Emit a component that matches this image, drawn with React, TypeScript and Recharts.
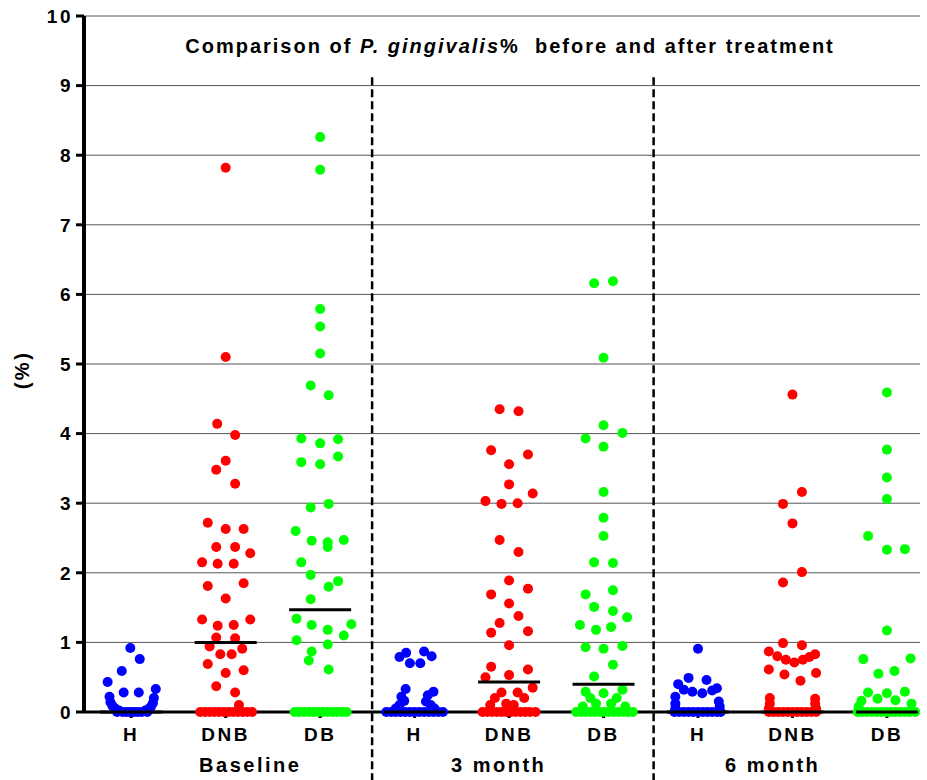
import React from "react";
import { ScatterChart, Scatter, XAxis, YAxis, CartesianGrid, ReferenceLine } from "recharts";

const categories = ["H", "DNB", "DB", "H", "DNB", "DB", "H", "DNB", "DB"];
const periods = ["Baseline", "3 month", "6 month"];
const periodCenters = [2.26, 4.89, 7.79];
const separators = [3.55, 6.53];
const yTicks = [0, 1, 2, 3, 4, 5, 6, 7, 8, 9, 10];

// each point: [P. gingivalis %, horizontal spread within the column]
const baselineH = [
  [0.92, -0.01], [0.76, 0.09], [0.59, -0.1], [0.43, -0.25], [0.28, -0.08], [0.28, 0.08], [0.33, 0.26],
  [0.22, -0.23], [0.2, 0.24], [0.14, -0.22], [0.13, 0.23], [0.09, -0.2], [0.08, 0.21], [0.05, -0.17],
  [0.05, 0.19], [0.02, -0.13], [0.02, 0.15], [0, -0.15], [0, -0.09], [0, -0.05], [0, -0.01], [0, 0.03],
  [0, 0.07], [0, 0.11], [0, 0.17],
];
const baselineDNB = [
  [7.82, 0], [5.1, 0], [4.14, -0.09], [3.98, 0.1], [3.61, 0], [3.48, -0.1], [3.28, 0.1],
  [2.72, -0.19], [2.63, 0], [2.63, 0.19], [2.37, -0.1], [2.37, 0.1], [2.28, 0.26], [2.15, -0.25],
  [2.13, -0.085], [2.13, 0.085], [1.81, -0.19], [1.85, 0.19], [1.63, 0], [1.33, -0.25], [1.33, 0.26],
  [1.24, -0.085], [1.25, 0.085], [1.07, -0.1], [1.06, 0.1], [0.94, -0.17], [0.91, 0.175], [0.83, -0.057],
  [0.83, 0.063], [0.69, -0.19], [0.56, 0], [0.6, 0.19], [0.37, -0.1], [0.28, 0.1], [0.1, 0.14],
  [0, -0.27], [0, -0.22], [0, -0.17], [0, -0.12], [0, -0.07], [0, -0.02], [0, 0.03], [0, 0.08],
  [0, 0.13], [0, 0.18], [0, 0.23], [0, 0.28],
];
const baselineDB = [
  [8.26, 0], [7.79, 0], [5.79, 0], [5.54, 0], [5.15, 0], [4.69, -0.1], [4.55, 0.09], [3.93, -0.2],
  [3.86, 0], [3.92, 0.19], [3.59, -0.2], [3.56, 0], [3.67, 0.19], [2.99, 0.09], [2.94, -0.1],
  [2.6, -0.26], [2.46, -0.09], [2.44, 0.08], [2.37, 0.08], [2.47, 0.25], [2.15, -0.2], [1.97, -0.1],
  [1.88, 0.19], [1.8, 0.09], [1.62, -0.1], [1.34, -0.25], [1.25, -0.09], [1.18, 0.08], [1.26, 0.33],
  [1.1, 0.25], [1.03, -0.25], [0.97, 0.08], [0.87, -0.09], [0.74, -0.12], [0.61, 0.09],
  [0, -0.27], [0, -0.22], [0, -0.17], [0, -0.12], [0, -0.07], [0, -0.02], [0, 0.03], [0, 0.08],
  [0, 0.13], [0, 0.18], [0, 0.23], [0, 0.28],
];
const month3H = [
  [0.79, -0.16], [0.85, -0.09], [0.7, -0.05], [0.7, 0.06], [0.87, 0.1], [0.8, 0.18], [0.33, -0.095],
  [0.29, 0.2], [0.22, -0.14], [0.24, 0.14], [0.16, -0.11], [0.15, 0.12], [0.1, -0.16], [0.1, 0.17],
  [0.05, -0.2], [0.05, 0.21], [0, -0.3], [0, -0.25], [0, -0.2], [0, -0.15], [0, -0.1], [0, -0.05],
  [0, 0], [0, 0.05], [0, 0.1], [0, 0.15], [0, 0.2], [0, 0.25], [0, 0.3],
];
const month3DNB = [
  [4.35, -0.1], [4.32, 0.1], [3.76, -0.19], [3.7, 0.2], [3.56, 0], [3.27, 0], [3.14, 0.25],
  [3.03, -0.25], [2.99, -0.08], [3.0, 0.09], [2.47, -0.1], [2.3, 0.1], [1.89, 0], [1.77, 0.2],
  [1.69, -0.19], [1.56, 0], [1.38, 0.1], [1.28, -0.1], [1.14, -0.19], [1.16, 0.2], [0.96, 0],
  [0.65, -0.19], [0.61, 0.2], [0.5, -0.25], [0.53, 0], [0.35, 0.25], [0.28, -0.08], [0.28, 0.09],
  [0.2, -0.15], [0.2, 0.16], [0.1, -0.2], [0.1, 0.05], [0.12, -0.03],
  [0, -0.28], [0, -0.23], [0, -0.18], [0, -0.13], [0, -0.08], [0, -0.03], [0, 0.02], [0, 0.07],
  [0, 0.12], [0, 0.17], [0, 0.22], [0, 0.28],
];
const month3DB = [
  [6.16, -0.1], [6.19, 0.1], [5.09, 0], [4.12, 0], [4.01, 0.2], [3.93, -0.19], [3.81, 0], [3.16, 0],
  [2.79, 0], [2.53, 0], [2.15, -0.1], [2.14, 0.1], [1.69, -0.19], [1.75, 0.1], [1.51, -0.1],
  [1.45, 0.1], [1.36, 0.25], [1.25, -0.25], [1.18, -0.08], [1.22, 0.08], [0.93, -0.19], [0.91, 0],
  [0.95, 0.2], [0.68, 0.1], [0.51, -0.1], [0.29, -0.19], [0.32, 0.2], [0.27, 0], [0.2, -0.14],
  [0.2, 0.14], [0.12, -0.08], [0.12, 0.08], [0.08, -0.22], [0.08, 0.23],
  [0, -0.29], [0, -0.24], [0, -0.19], [0, -0.14], [0, -0.09], [0, -0.04], [0, 0.01], [0, 0.06],
  [0, 0.11], [0, 0.16], [0, 0.21], [0, 0.26], [0, 0.31],
];
const month6H = [
  [0.91, 0], [0.49, -0.1], [0.46, 0.09], [0.4, -0.21], [0.34, 0.2], [0.29, -0.06], [0.27, 0.045],
  [0.32, -0.15], [0.31, 0.15], [0.22, -0.24], [0.15, 0.22], [0.12, -0.24], [0.08, 0.23], [0.05, -0.24],
  [0, -0.25], [0, -0.2], [0, -0.15], [0, -0.1], [0, -0.05], [0, 0], [0, 0.05], [0, 0.1], [0, 0.15],
  [0, 0.2], [0, 0.24],
];
const month6DNB = [
  [4.56, 0], [3.16, 0.1], [2.99, -0.1], [2.71, 0], [2.01, 0.1], [1.86, -0.1], [0.99, -0.1], [0.96, 0.1],
  [0.87, -0.25], [0.83, 0.24], [0.8, -0.16], [0.75, -0.07], [0.71, 0.02], [0.75, 0.11], [0.79, 0.18],
  [0.61, -0.25], [0.54, -0.085], [0.56, 0.25], [0.45, 0.085], [0.2, -0.24], [0.19, 0.24],
  [0.12, -0.24], [0.12, 0.24], [0.05, -0.25], [0.05, 0.25],
  [0, -0.25], [0, -0.2], [0, -0.15], [0, -0.1], [0, -0.05], [0, 0], [0, 0.05], [0, 0.1], [0, 0.15],
  [0, 0.2], [0, 0.25],
];
const month6DB = [
  [4.59, 0], [3.77, 0], [3.37, 0], [3.06, 0], [2.53, -0.2], [2.33, 0], [2.34, 0.19], [1.17, 0],
  [0.76, -0.25], [0.77, 0.25], [0.59, 0.08], [0.55, -0.09], [0.28, -0.2], [0.27, 0], [0.29, 0.19],
  [0.19, -0.1], [0.17, 0.09], [0.16, -0.27], [0.12, 0.26], [0.08, -0.3],
  [0, -0.31], [0, -0.26], [0, -0.21], [0, -0.16], [0, -0.11], [0, -0.06], [0, -0.01], [0, 0.04],
  [0, 0.09], [0, 0.14], [0, 0.19], [0, 0.24], [0, 0.3],
];
const medians = [0, 1.0, 1.47, 0, 0.43, 0.4, 0, 0, 0];

const columns = [baselineH, baselineDNB, baselineDB, month3H, month3DNB, month3DB, month6H, month6DNB, month6DB];
const seriesColors = ["#0000ff", "#ff0000", "#00ff00"];

function pointsFor(kind: number) {
  const out: { x: number; y: number }[] = [];
  columns.forEach((col, i) => {
    if (i % 3 !== kind) return;
    col.forEach(([v, j]) => out.push({ x: i + 1 + j, y: v }));
  });
  return out;
}

const medianPoints = medians.map((m, i) => ({ x: i + 1, y: m }));
// anchors the period axis so it gets a domain; draws nothing
const periodAnchors = periodCenters.map((x) => ({ x, y: 0 }));

const dot = (p: any) => <circle cx={p.cx} cy={p.cy} r={5} fill={p.fill} />;
const medianBar = (p: any) => <line x1={p.cx - 31} x2={p.cx + 31} y1={p.cy} y2={p.cy} stroke="#000" strokeWidth={3} />;
const noDot = () => <g />;

const FONT = "'Liberation Sans', Arial, sans-serif";

function YLabel(props: any) {
  const vb = props.viewBox;
  const cx = vb.x + 22;
  const cy = vb.y + vb.height / 2 + 6;
  return (
    <text x={cx} y={cy} transform={`rotate(-90, ${cx}, ${cy})`} textAnchor="middle" dominantBaseline="central" fontSize={20} fill="#000">
      (%)
    </text>
  );
}

export default function App() {
  return (
    <div style={{ position: "absolute", left: 0, top: 0, width: 927, height: 780, background: "#fff" }}>
      <style>{`.pg text { font-family: ${FONT}; font-weight: bold; letter-spacing: 2.5px; }`}</style>
      <div
        style={{
          position: "absolute", left: 84, width: 852, top: 34, textAlign: "center", fontFamily: FONT,
          fontWeight: "bold", fontSize: 20, lineHeight: "24px", letterSpacing: 2, color: "#000", zIndex: 2,
        }}
      >
        Comparison of <i>P. gingivalis</i>%&nbsp; before and after treatment
      </div>
      <div className="pg">
        <ScatterChart width={927} height={780} margin={{ top: 16, right: 7, bottom: 0, left: 0 }}>
          <CartesianGrid horizontal vertical={false} stroke="#555" strokeWidth={1} />
          {/* x axis baseline sits under the points, as in the original */}
          <CartesianGrid horizontal vertical={false} horizontalValues={[0]} stroke="#000" strokeWidth={3} />
          <XAxis
            type="number" dataKey="x" domain={[0.5, 9.35]} ticks={[1, 2, 3, 4, 5, 6, 7, 8, 9]} interval={0}
            tickFormatter={(v: number) => categories[v - 1]} height={40}
            axisLine={false} tickLine={{ stroke: "#000", strokeWidth: 3 }}
            tickSize={6} tickMargin={10} tick={{ fill: "#000", fontSize: 19 }}
          />
          <XAxis
            xAxisId="period" type="number" dataKey="x" domain={[0.5, 9.35]} ticks={periodCenters} interval={0}
            tickFormatter={(v: number) => periods[periodCenters.indexOf(v)]} height={28}
            axisLine={false} tickLine={false} tickSize={0} tickMargin={6} tick={{ fill: "#000", fontSize: 20 }}
          />
          <YAxis
            type="number" dataKey="y" domain={[0, 10]} ticks={yTicks} interval={0} width={84}
            axisLine={{ stroke: "#000", strokeWidth: 4 }} tickLine={{ stroke: "#000", strokeWidth: 3 }}
            tickSize={8} tickMargin={3} tick={{ fill: "#000", fontSize: 19 }}
            label={{ content: <YLabel /> }}
          />
          {separators.map((s) => (
            <ReferenceLine
              key={s} segment={[{ x: s, y: 9.12 }, { x: s, y: -0.98 }]} ifOverflow="visible"
              stroke="#000" strokeWidth={2.5} strokeDasharray="8 4"
            />
          ))}
          <Scatter xAxisId="period" data={periodAnchors} shape={noDot} isAnimationActive={false} />
          {seriesColors.map((c, k) => (
            <Scatter key={c} data={pointsFor(k)} fill={c} shape={dot} isAnimationActive={false} />
          ))}
          <Scatter data={medianPoints} shape={medianBar} isAnimationActive={false} />
        </ScatterChart>
      </div>
    </div>
  );
}
